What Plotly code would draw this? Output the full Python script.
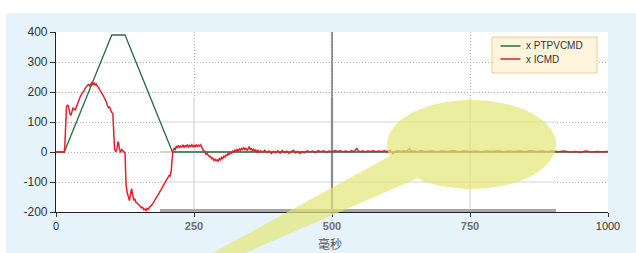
import math
import plotly.graph_objects as go

# ---------------- data ----------------
ptp_x = [0, 15, 101, 125, 211, 1000]
ptp_y = [0, 0, 390, 390, 0, 0]

icmd_x = [0, 15, 16, 17, 18, 19, 21, 23, 25, 27, 29, 31, 33, 35, 37, 39, 41, 43, 45, 47, 49,
          51, 53, 55, 57, 59, 61, 63, 65, 67, 69, 71, 73, 75, 77, 79, 81, 83, 85, 87, 89,
          91, 93, 95, 97, 99, 101, 103, 104, 105, 106, 108, 110, 112, 113, 115, 117, 119,
          121, 123, 125, 126, 127, 129, 131, 133, 135, 137, 139, 141, 143, 145, 147, 149,
          151, 153, 155, 157, 159, 161, 163, 165, 167, 169, 171, 173, 175, 177, 179, 181,
          183, 185, 187, 189, 191, 193, 195, 197, 199, 201, 203, 205, 207, 209, 210, 211,
          212, 214, 216, 218, 220, 222, 224, 226, 228, 230, 232, 234, 236, 238, 240, 242,
          244, 246, 248, 250, 252, 254, 256, 258, 260, 262, 264, 266, 268, 270, 272, 274,
          276, 278, 280, 282, 284, 286, 288, 290, 292, 294, 296, 298, 300, 302, 304, 306,
          308, 310, 312, 314, 316, 318, 320, 322, 324, 326, 328, 330, 332, 334, 336, 338,
          340, 342, 344, 346, 348, 350, 352, 354, 356, 358, 360, 362, 364, 366, 368, 370,
          374, 378, 382, 386, 390, 394, 398, 402, 406, 410, 414, 418, 422, 426, 430, 434,
          438, 442, 446, 450, 455, 460, 465, 470, 475, 480, 485, 490, 495, 500, 505, 510,
          515, 520, 525, 530, 535, 540, 545, 548, 552, 556, 560, 565, 570, 575, 580, 585,
          590, 595, 600, 605, 610, 615, 620, 625, 630, 635, 640, 645, 650, 655, 660, 670,
          680, 690, 700, 710, 720, 730, 740, 750, 760, 770, 780, 790, 800, 810, 820, 830,
          840, 850, 860, 870, 880, 890, 900, 910, 920, 930, 940, 950, 960, 970, 980, 990, 1000]
icmd_y = [0, 0, 20, 80, 130, 150, 157, 150, 128, 122, 135, 148, 142, 140, 150, 162, 168, 180, 188, 195, 202,
          208, 212, 218, 222, 225, 220, 228, 232, 225, 230, 222, 228, 218, 216, 208, 200, 196, 190, 183, 176,
          168, 155, 148, 150, 140, 132, 128, 90, 40, 10, 2, 5, 30, 35, 10, -2, 8,
          4, 0, -3, -60, -110, -135, -155, -162, -140, -122, -145, -160, -158, -168, -170, -174,
          -178, -182, -186, -184, -192, -190, -195, -188, -191, -185, -182, -178, -172, -168, -160, -155,
          -148, -142, -136, -130, -122, -117, -110, -104, -98, -90, -85, -78, -80, -60, -30, -5,
          5, 12, 8, 18, 15, 22, 14, 20, 17, 24, 16, 21, 18, 25, 15, 22,
          19, 24, 16, 22, 18, 25, 17, 23, 20, 24, 14, 8, 4, -4, -8, -5,
          -12, -16, -14, -22, -20, -28, -24, -30, -26, -30, -22, -26, -18, -22, -14, -17,
          -10, -12, -5, -8, -2, -4, 3, 0, 6, 2, 8, 4, 10, 6, 12, 8,
          14, 9, 12, 6, 10, 18, 8, 11, 4, 9, 2, 7, 0, 5, -2, 4,
          -1, 6, -2, 3, -5, 2, -3, 4, -4, 5, -2, 3, -4, 0, 6, -3,
          2, -5, 1, -2, 4, 0, 3, -2, 5, 1, 4, -1, 3, 0, 5, 2,
          4, 1, 3, 0, 4, 2, 12, 3, 1, 4, 0, 3, 2, 4, 1, 3,
          2, 4, 1, 6, -5, 2, 5, 1, 4, 2, 10, 2, 3, 1, 4, 2,
          3, 1, 3, 2, 4, 1, 3, 2, 3, 1, 3, 2, 4, 1, 3, 2,
          3, 1, 4, 2, 3, 1, 3, 1, 3, 0, 2, -1, 3, 0, 2, 1, 2]

x_ticks = [0, 250, 500, 750, 1000]
y_ticks = [-200, -100, 0, 100, 200, 300, 400]
series_names = ["x PTPVCMD", "x ICMD"]
x_title = "毫秒"

GREEN = "#2b6e45"
RED = "#e3202a"

# page pixel -> paper helpers (plot area: x 56..608, y 32..212)
def px(p):
    return (p - 56) / 552.0

def py(p):
    return (212 - p) / 180.0

fig = go.Figure()
fig.add_trace(go.Scatter(x=ptp_x, y=ptp_y, mode="lines", name=series_names[0],
                         line=dict(color=GREEN, width=1.3)))
fig.add_trace(go.Scatter(x=icmd_x, y=icmd_y, mode="lines", name=series_names[1],
                         line=dict(color=RED, width=1.5)))

shapes = []
# white strips at top and left of the photo
shapes.append(dict(type="rect", xref="paper", yref="paper", x0=px(-5), x1=px(640), y0=py(13), y1=py(-5),
                   fillcolor="white", line=dict(width=0), layer="below"))
shapes.append(dict(type="rect", xref="paper", yref="paper", x0=px(-5), x1=px(6), y0=py(260), y1=py(-5),
                   fillcolor="white", line=dict(width=0), layer="below"))
# edited region with solid light grid lines
shapes.append(dict(type="rect", xref="x", yref="y", x0=188, x1=906, y0=-200, y1=183,
                   fillcolor="white", line=dict(width=0), layer="between"))
for yv, col in [(100, "#d4d4d4"), (0, "#a8a8a8"), (-100, "#d4d4d4")]:
    shapes.append(dict(type="line", xref="x", yref="y", x0=188, x1=906, y0=yv, y1=yv,
                       line=dict(color=col, width=1.2), layer="between"))
for xv in [250, 750]:
    shapes.append(dict(type="line", xref="x", yref="y", x0=xv, x1=xv, y0=-200, y1=183,
                       line=dict(color="#d4d4d4", width=1.2), layer="between"))
# dark 500 line
shapes.append(dict(type="line", xref="x", yref="y", x0=500, x1=500, y0=183, y1=400,
                   line=dict(color="#555555", width=1.2), layer="between"))
shapes.append(dict(type="line", xref="x", yref="y", x0=500, x1=500, y0=-200, y1=183,
                   line=dict(color="#8a8a8a", width=2.2), layer="between"))
# gray bar on bottom axis
shapes.append(dict(type="line", xref="paper", yref="paper", x0=px(160), x1=px(556), y0=py(210.5), y1=py(210.5),
                   line=dict(color="#a8a8a8", width=3), layer="above"))

# yellow callout (ellipse + tail) as one simple outline
ecx, ecy, erx, ery = 471.5, 144.5, 84.5, 44.5
tA, tB = 165.0, 130.0
pts = []
n = 80
for i in range(n + 1):
    t = math.radians(tB - (tB - (tA - 360.0)) * i / n)
    pts.append((ecx + erx * math.cos(t), ecy + ery * math.sin(t)))
pts.append((196, 262))   # upper edge of tail, off-screen
pts.append((224, 262))   # lower edge of tail, off-screen
path = "M" + " L".join(f"{px(a):.5f},{py(b):.5f}" for a, b in pts) + " Z"
shapes.append(dict(type="path", xref="paper", yref="paper", path=path,
                   fillcolor="rgb(226,231,118)", opacity=0.7, line=dict(width=0), layer="above"))

# legend box
shapes.append(dict(type="rect", xref="paper", yref="paper", x0=px(492), x1=px(597), y0=py(73), y1=py(37),
                   fillcolor="#fff5dc", line=dict(color="#efc996", width=1), layer="above"))
shapes.append(dict(type="line", xref="paper", yref="paper", x0=px(500.5), x1=px(520.5), y0=py(46), y1=py(46),
                   line=dict(color=GREEN, width=1.5), layer="above"))
shapes.append(dict(type="line", xref="paper", yref="paper", x0=px(500.5), x1=px(520.5), y0=py(59), y1=py(59),
                   line=dict(color=RED, width=1.5), layer="above"))

annotations = [
    dict(xref="paper", yref="paper", x=px(524), y=py(46), text=series_names[0], showarrow=False,
         xanchor="left", yanchor="middle", font=dict(family="Liberation Sans", size=10, color="#333333")),
    dict(xref="paper", yref="paper", x=px(524), y=py(59), text=series_names[1], showarrow=False,
         xanchor="left", yanchor="middle", font=dict(family="Liberation Sans", size=10, color="#333333")),
    dict(xref="paper", yref="paper", x=px(330), y=py(243), text=x_title, showarrow=False,
         xanchor="center", yanchor="middle", font=dict(family="Noto Sans CJK SC", size=12, color="#555555")),
]

x_ticktext = [str(v) if v in (0, 1000) else f"<span style='color:#707070'><b>{v}</b></span>" for v in x_ticks]

fig.update_layout(
    width=636, height=253,
    margin=dict(l=56, r=28, t=32, b=41),
    paper_bgcolor="#e6f3fa",
    plot_bgcolor="white",
    showlegend=False,
    shapes=shapes,
    annotations=annotations,
    xaxis=dict(range=[0, 1000], tickvals=x_ticks, ticktext=x_ticktext,
               showgrid=True, gridcolor="#b0b0b0", griddash="1px,2px", gridwidth=1,
               showline=True, linecolor="#222222", linewidth=1.2,
               ticks="outside", ticklen=4, tickcolor="#333333",
               tickfont=dict(family="Liberation Sans", size=11, color="#333333"),
               zeroline=False, fixedrange=True),
    yaxis=dict(range=[-200, 400], tickvals=y_ticks, ticktext=[str(v) for v in y_ticks],
               showgrid=True, gridcolor="#b0b0b0", griddash="1px,2px", gridwidth=1,
               showline=True, linecolor="#222222", linewidth=1.2,
               ticks="outside", ticklen=5, tickcolor="#333333",
               tickfont=dict(family="Liberation Sans", size=12, color="#333333"),
               zeroline=False, fixedrange=True),
)

fig.write_html("out.html", config={"displayModeBar": False},
               post_script="document.body.style.margin='0';document.body.style.overflow='hidden';")
